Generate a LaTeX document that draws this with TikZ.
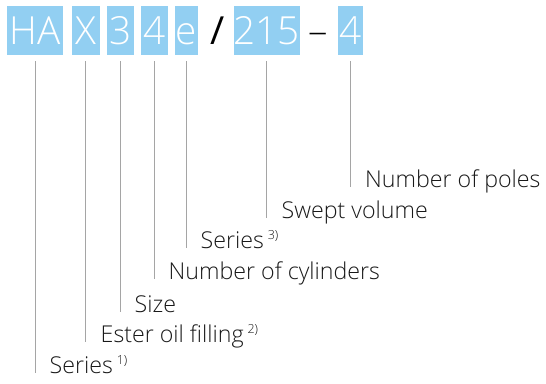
\documentclass[tikz,border=0pt]{standalone}
\usepackage{fontspec}
\setmainfont{Open Sans Light}
\newfontfamily\slashfont{Open Sans}
\usetikzlibrary{positioning, calc}

\definecolor{codeblue}{RGB}{146,207,242}
\definecolor{leadgray}{RGB}{165,165,165}
\newcommand{\fnref}[1]{\,{\fontsize{12.5}{12}\selectfont\raisebox{8.5pt}{#1}}}

\begin{document}
\begin{tikzpicture}[
    x=1pt, y=-1pt,
    codebox/.style={rectangle, fill=codeblue, text=white, inner sep=0pt, minimum height=49.3pt,
        text height=27.6pt, text depth=0pt, font=\fontsize{38.7}{40}\selectfont},
    sep/.style={inner sep=0pt, text height=27.6pt, text depth=0pt, font=\fontsize{38.7}{40}\selectfont},
    desc/.style={anchor=base west, inner sep=0pt, text=black!90, font=\fontsize{23.2}{25}\selectfont},
    leader/.style={draw=leadgray, line width=1pt}
]
\useasboundingbox (0,0) rectangle (546,383);

% Type code
\node[codebox, minimum width=55.4pt] (ha) at (35, 30.3) {HA};
\node[codebox, minimum width=28.3pt] (oil) at (85.8, 30.3) {X};
\node[codebox, minimum width=26.7pt] (size) at (120.7, 30.3) {3};
\node[codebox, minimum width=26.7pt] (cyl) at (154.3, 30.3) {4};
\node[codebox, minimum width=23.3pt] (ser) at (186.3, 30.3) {e};
\node[sep] (slash) at (218, 30.3) {\slashfont /};
\node[codebox, minimum width=61.3pt] (vol) at (266.7, 30.3) {215};
\node[sep] (dash) at (318, 30.3) {–};
\node[codebox, minimum width=25.7pt] (poles) at (350.5, 30.3) {4};

% Descriptions
\node[desc] (dpoles) at (365, 187) {Number of poles};
\node[desc] (dvol) at (281.5, 218) {Swept volume};
\node[desc] (dser) at (200.5, 248) {Series\fnref{3)}};
\node[desc] (dcyl) at (168.5, 279) {Number of cylinders};
\node[desc] (dsize) at (134.5, 312) {Size};
\node[desc] (doil) at (100.5, 342) {Ester oil filling\fnref{2)}};
\node[desc] (dha) at (49.5, 373) {Series\fnref{1)}};

% Leaders
\draw[leader] ([yshift=-6pt]ha.south) -- (ha.south |- dha.base);
\draw[leader] ([yshift=-6pt]oil.south) -- (oil.south |- doil.base);
\draw[leader] ([yshift=-6pt]size.south) -- (size.south |- dsize.base);
\draw[leader] ([yshift=-6pt]cyl.south) -- (cyl.south |- dcyl.base);
\draw[leader] ([yshift=-6pt]ser.south) -- (ser.south |- dser.base);
\draw[leader] ([yshift=-6pt]vol.south) -- (vol.south |- dvol.base);
\draw[leader] ([yshift=-6pt]poles.south) -- (poles.south |- dpoles.base);
\end{tikzpicture}
\end{document}
